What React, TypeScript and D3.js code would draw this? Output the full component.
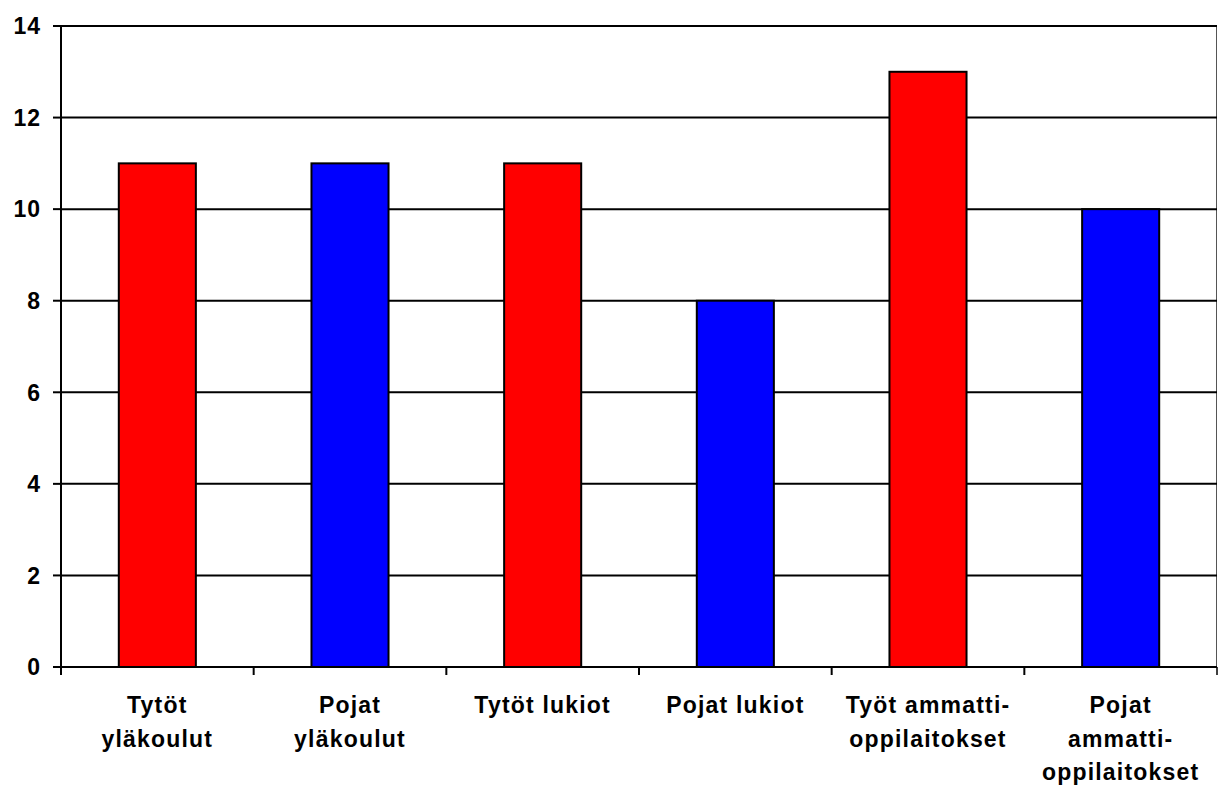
import React from "react";
import * as d3 from "d3";

const categories: string[][] = [
  ["Tytöt", "yläkoulut"],
  ["Pojat", "yläkoulut"],
  ["Tytöt lukiot"],
  ["Pojat lukiot"],
  ["Työt ammatti-", "oppilaitokset"],
  ["Pojat", "ammatti-", "oppilaitokset"],
];
const values: number[] = [11, 11, 11, 8, 13, 10];
const barColors: string[] = ["#FF0000", "#0000FF", "#FF0000", "#0000FF", "#FF0000", "#0000FF"];
const yTicks: number[] = [0, 2, 4, 6, 8, 10, 12, 14];

const W = 1218;
const H = 788;
const left = 61;
const right = 1217;
const top = 26;
const bottom = 667;
const font = "'Liberation Sans', Arial, sans-serif";

export default function App() {
  const x = d3
    .scaleBand<number>()
    .domain(d3.range(categories.length))
    .range([left, right])
    .paddingInner(0.6)
    .paddingOuter(0.3);
  const band = d3.scaleBand<number>().domain(d3.range(categories.length)).range([left, right]);
  const y = d3.scaleLinear().domain([0, 14]).range([bottom, top]);
  const tickXs = d3.range(categories.length + 1).map((i) => left + i * band.step());

  return (
    <div style={{ position: "absolute", left: 0, top: 0 }}>
      <svg width={W} height={H} style={{ display: "block", background: "#fff" }}>
        <rect x={0} y={0} width={W} height={H} fill="#fff" />
        {/* right border */}
        <line x1={right - 0.5} x2={right - 0.5} y1={top} y2={bottom} stroke="#555" strokeWidth={1} />
        {/* gridlines */}
        {yTicks.filter((t) => t > 0).map((t) => (
          <line key={t} x1={left} x2={right} y1={y(t)} y2={y(t)} stroke="#000" strokeWidth={2} />
        ))}
        {/* bars */}
        {values.map((v, i) => (
          <rect
            key={i}
            x={x(i)!}
            y={y(v)}
            width={x.bandwidth()}
            height={y(0) - y(v)}
            fill={barColors[i]}
            stroke="#000"
            strokeWidth={2}
          />
        ))}
        {/* axes */}
        <line x1={left} x2={left} y1={top} y2={bottom + 8} stroke="#000" strokeWidth={2} />
        <line x1={left - 8} x2={right} y1={bottom} y2={bottom} stroke="#000" strokeWidth={2} />
        {yTicks.map((t) => (
          <line key={"yt" + t} x1={left - 8} x2={left} y1={y(t)} y2={y(t)} stroke="#000" strokeWidth={2} />
        ))}
        {tickXs.map((tx, i) => (
          <line key={"xt" + i} x1={tx} x2={tx} y1={bottom} y2={bottom + 8} stroke="#000" strokeWidth={i === tickXs.length - 1 ? 1.5 : 2} />
        ))}
        {/* y labels */}
        {yTicks.map((t) => (
          <text
            key={"yl" + t}
            x={41}
            y={y(t)}
            dy="0.36em"
            textAnchor="end"
            fontFamily={font}
            fontWeight="bold"
            fontSize={23}
            letterSpacing={1}
            fill="#000"
          >
            {t}
          </text>
        ))}
        {/* x labels */}
        {categories.map((lines, i) => (
          <text
            key={"xl" + i}
            x={(band(i)! + band.step() / 2)}
            y={713}
            textAnchor="middle"
            fontFamily={font}
            fontWeight="bold"
            fontSize={23}
            letterSpacing={1.2}
            fill="#000"
          >
            {lines.map((l, j) => (
              <tspan key={j} x={band(i)! + band.step() / 2} y={713 + j * 33.5}>
                {l}
              </tspan>
            ))}
          </text>
        ))}
      </svg>
    </div>
  );
}
